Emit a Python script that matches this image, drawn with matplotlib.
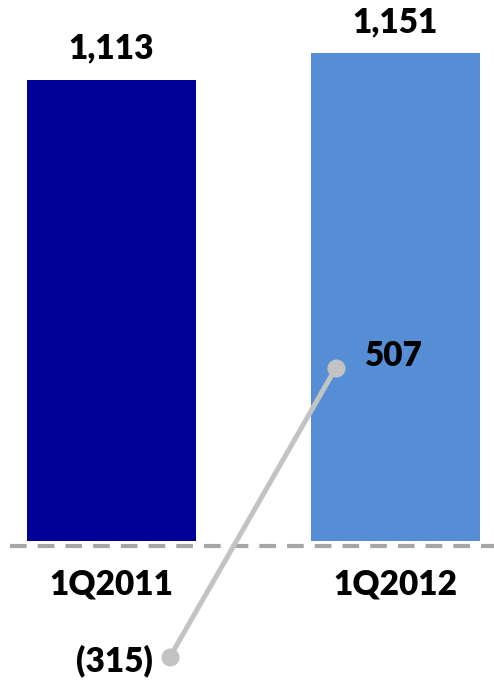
import matplotlib
matplotlib.use("Agg")
import matplotlib.pyplot as plt

# --- data ---
quarters = ["1Q2011", "1Q2012"]
revenue = [1113, 1151]
net_change = [-315, 507]
revenue_labels = ["1,113", "1,151"]
change_labels = ["(315)", "507"]

bar_colors = ["#000099", "#558ed5"]
line_color = "#c3c3c3"
dash_color = "#a6a6a6"

plt.rcParams["font.family"] = ["Lato", "DejaVu Sans"]
label_kw = dict(fontsize=24, fontweight="heavy")

fig = plt.figure(figsize=(4.94, 6.81), dpi=100)
W, H = 494, 681

# --- bars (axis starts above zero) ---
base_px = H - 540.5
ax = fig.add_axes([0, base_px / H, 1, 1 - base_px / H])
ax.patch.set_alpha(0)
px_per_unit = 0.69
y0 = 445
ax.set_ylim(y0, y0 + (H - base_px) / px_per_unit)
ax.set_xlim(-111.5 / 283.5, (W - 111.5) / 283.5)

x = range(len(quarters))
bars = ax.bar(x, revenue, width=169 / 283.5, color=bar_colors)
for xi, v, lab in zip(x, revenue, revenue_labels):
    ax.annotate(lab, (xi, v), xytext=(0, 15), textcoords="offset points",
                ha="center", va="baseline", **label_kw)

ax.set_xticks(list(x))
ax.set_xticklabels(quarters, **label_kw)
ax.tick_params(axis="x", length=0, pad=20)
ax.set_yticks([])
for s in ax.spines.values():
    s.set_visible(False)

# --- change line on its own scale ---
ax2 = fig.add_axes([0, 0, 1, 1])
ax2.patch.set_alpha(0)
k = 0.352
zero_px = H - 546
ax2.set_ylim(-zero_px / k, (H - zero_px) / k)
ax2.set_xlim(-170 / 166, (W - 170) / 166)
ax2.axhline(0, xmin=10 / W, xmax=1, color=dash_color, lw=3,
            linestyle=(0, (4.0, 2.65)), zorder=1)
ax2.plot(list(x), net_change, color=line_color, lw=3.6, marker="o",
         markersize=12, solid_capstyle="round", zorder=3)

ax2.annotate(change_labels[0], (0, net_change[0]), xytext=(-12, -3),
             textcoords="offset points", ha="right", va="center", **label_kw)
ax2.annotate(change_labels[1], (1, net_change[1]), xytext=(21, 8),
             textcoords="offset points", ha="left", va="center", **label_kw)
ax2.axis("off")

fig.savefig("out.png", dpi=100)
